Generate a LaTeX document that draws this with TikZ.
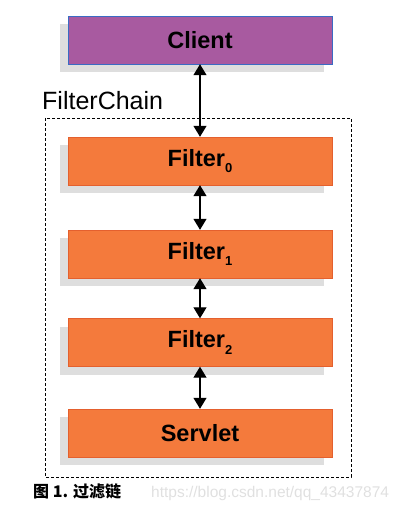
\documentclass[tikz,border=0pt]{standalone}
\usepackage{fontspec}
\setmainfont{Liberation Sans}
\newfontfamily\cjk{Noto Sans CJK SC}
\usetikzlibrary{arrows.meta,shadows}
\definecolor{clientpurple}{HTML}{A85AA0}
\definecolor{clientline}{HTML}{3A6BC4}
\definecolor{filterorange}{HTML}{F47A3C}
\definecolor{filterline}{HTML}{E4602E}
\definecolor{boxshadow}{HTML}{DEDEDE}
\newcommand{\fsub}[1]{\raisebox{-6.5pt}{\fontsize{13}{13}\selectfont #1}}

\begin{document}
\begin{tikzpicture}[x=1pt,y=-1pt,
  box/.style={draw=filterline, fill=filterorange, minimum width=264pt, minimum height=48pt,
    inner sep=0pt, font=\fontsize{23.5}{23.5}\selectfont\bfseries,
    drop shadow={shadow xshift=-8pt, shadow yshift=-8pt, fill=boxshadow, opacity=1}},
  link/.style={{Triangle[width=13pt,length=11pt]}-{Triangle[width=13pt,length=11pt]}, line width=1.3pt}]
  \useasboundingbox (0,0) rectangle (404,505);
  \draw[dash pattern=on 3pt off 2pt, line width=0.9pt] (45,118) rectangle (351,477);
  \node[anchor=base west, inner sep=0pt, font=\fontsize{25}{25}\selectfont] (chainlabel) at (42,110) {FilterChain};
  \node[box, fill=clientpurple, draw=clientline] (client) at (200,40) {Client};
  \node[box] (filter0) at (200,161) {Filter\fsub{0}};
  \node[box] (filter1) at (200,254) {Filter\fsub{1}};
  \node[box] (filter2) at (200,342.5) {Filter\fsub{2}};
  \node[box] (servlet) at (200,433) {Servlet};
  \draw[link] (client.south) -- (filter0.north);
  \draw[link] (filter0.south) -- (filter1.north);
  \draw[link] (filter1.south) -- (filter2.north);
  \draw[link] (filter2.south) -- (servlet.north);
  \node[anchor=base west, inner sep=0pt, font=\cjk\bfseries\fontsize{16}{16}\selectfont] (caption) at (33,497) {图 1. 过滤链};
  \node[anchor=base west, inner sep=0pt, text=black!12, font=\fontsize{15.5}{15.5}\selectfont] (mark) at (151,497) {https://blog.csdn.net/qq\_43437874};
\end{tikzpicture}
\end{document}
